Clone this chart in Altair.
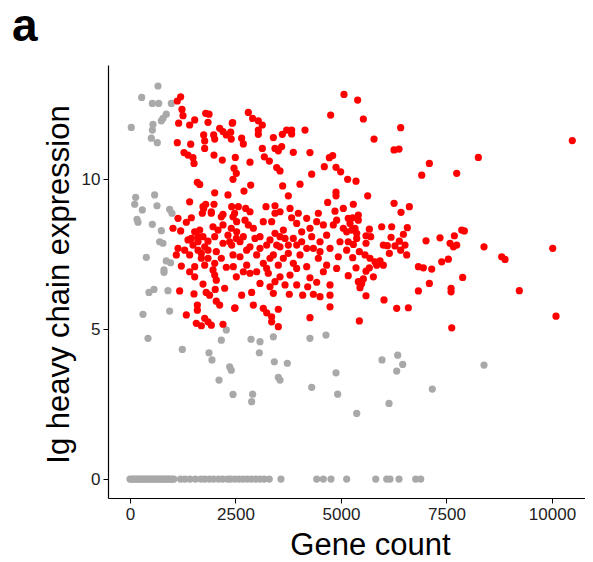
import altair as alt
import pandas as pd

red_gene_count = [
    1201,1121,1232,1256,1794,1872,1533,1153,1849,1414,2424,2125,2204,2283,2386,1746,1983,1770,2007,2400,
    1121,1438,1770,1280,1375,1493,1517,1991,2188,2496,2465,2520,2441,1596,1652,2007,2322,1414,1794,1991,
    1746,1927,2204,2480,
    5071,5395,2804,2907,3041,3136,4755,2433,3041,3041,3713,3831,3831,3610,4147,3397,2646,2686,3136,3436,
    3594,3515,3870,4265,3183,3302,2844,4724,4803,4605,4882,4992,3476,3555,4306,3618,4029,2860,2702,5157,
    5356,3752,4882,4882,4684,2567,2742,3223,3436,3792,5055,5292,3436,3989,4463,4858,
    5530,6414,5783,6257,6375,7094,6913,7742,8255,5633,6257,6620,6422,5411,
    10481,8389,8808,8887,10017,9226,10095,
    5277,5411,5214,5672,5964,6201,6572,6478,6186,6383,6280,6517,6003,6098,6414,6146,6557,7015,7346,7686,
    7860,7923,7584,7663,7742,7544,7387,6834,6952,7149,7883,7094,6834,7608,7608,6019,6320,6596,5435,7624,
    5593,5767,5490,5450,5530,5356,5277,5569,5688,5806,5925,6003,5846,5672,5593,5435,5293,5372,5593,5593,
    5704,5372,5254,
    2725,3159,3357,3831,3950,4187,4265,4069,3634,3436,2923,2528,2686,3081,3674,4306,4897,5172,5055,5332,
    5134,4660,4503,2410,2844,3239,3555,3950,4187,4740,5172,5134,4937,4463,4029,3752,3397,3002,2607,2448,
    2765,3159,3515,3870,4187,4660,2844,3278,3555,3792,4265,4740,4424,5172,5411,3081,3318,3674,4211,2646,
    2883,3397,3776,4092,4345,4503,4740,2488,2923,3159,3515,3239,3357,3357,3515,4265,4740,
    1138,1335,1454,1730,1927,1714,2164,2441,1019,1201,1533,1652,1967,2204,2400,1375,1612,1730,1849,2007,
    2204,2362,2520,1138,1296,1493,1612,1849,2045,1098,1414,1691,1849,2164,2441,1217,1533,1770,1967,2282,
    1414,1533,2007,2045,2520,1730,1177,1517,1806,1886,2020,2243,2045,2125,1596,1596,2480,1335,1770,1849,
    1572,1691,1927,2204,
    2528,2607,2804,2962,2765,3081,3318,3476,3555,3752,3870,4069,3318,3634,3950,3239,3002,2686,3436,3950,
    4582,4897,4345,4503,4976,4818,4582,4424,2844,3555,2410,
    1454,1770,1612,2086,2322,1691,2007,
]
red_ig = [
    12.74,12.6,12.32,12.11,12.19,12.16,11.97,11.86,11.89,11.8,11.86,11.69,11.58,11.47,11.56,11.47,11.47,11.27,11.33,11.33,
    11.21,11.16,11.02,10.88,10.8,10.71,10.52,10.8,10.63,10.72,10.36,10.19,9.99,9.89,9.82,9.54,9.47,9.24,9.16,9.16,
    9.02,8.91,8.82,8.86,
    12.82,12.63,12.22,12.02,11.94,11.8,12.13,11.88,11.63,11.49,11.63,11.63,11.5,11.49,11.63,11.38,11.36,11.17,11.02,11.02,
    11.08,10.94,10.89,10.88,10.74,10.6,10.56,10.71,10.78,10.41,10.39,10.24,10.38,10.27,10.16,9.77,9.83,9.8,9.6,9.99,
    9.93,9.44,9.56,9.44,9.22,9.08,9.02,9.08,9.11,9.02,9.02,9.16,8.86,8.86,8.86,8.93,
    12.0,11.71,11.33,10.97,11.0,10.52,10.13,10.19,10.72,9.44,9.19,9.08,8.89,8.8,
    11.28,7.74,7.41,7.32,7.69,6.28,5.43,
    8.71,8.63,8.52,8.33,8.41,8.41,8.38,8.16,8.06,7.93,7.77,7.8,7.8,7.78,7.63,7.52,7.47,7.94,8.04,8.11,
    8.3,8.27,7.86,7.74,7.8,7.33,7.24,7.08,7.04,7.0,6.72,6.52,6.27,6.36,6.24,5.97,5.69,5.71,5.27,5.04,
    6.11,6.74,6.52,6.38,6.67,7.04,7.38,7.47,7.36,7.24,7.27,7.13,7.13,7.04,6.93,7.58,7.82,8.02,7.86,8.11,
    8.08,8.19,8.3,
    8.63,8.58,8.58,8.71,8.52,8.69,8.36,8.24,8.3,8.19,8.36,8.24,8.08,8.08,8.02,8.08,8.63,8.69,8.36,8.36,
    8.24,8.13,7.91,7.8,7.74,7.8,7.74,7.8,7.69,7.69,7.91,7.63,7.41,7.36,7.47,7.52,7.47,7.47,7.41,7.08,
    7.13,7.19,7.13,7.19,7.08,7.13,6.86,6.86,6.74,6.8,6.71,6.47,6.56,6.78,6.58,6.52,6.41,6.47,6.41,6.13,
    6.22,6.19,6.16,6.13,6.16,6.08,6.13,5.71,5.8,5.69,5.66,5.54,5.41,5.24,5.08,5.38,5.74,
    8.69,8.56,8.71,9.08,8.86,8.86,8.74,8.74,8.36,8.27,8.24,8.3,8.41,8.47,8.36,7.97,8.08,8.08,7.93,8.08,
    7.86,7.91,8.02,7.69,7.63,7.8,7.63,7.63,7.58,7.47,7.47,7.36,7.36,7.36,7.47,7.1,7.08,7.13,6.97,7.06,
    6.91,6.74,6.8,6.63,6.74,6.5,6.27,6.17,6.22,6.13,6.32,6.36,5.93,5.8,5.8,5.63,5.69,5.47,5.36,5.24,
    5.19,5.11,5.13,5.16,
    8.58,7.91,8.47,8.02,7.63,7.69,7.97,7.8,8.08,7.8,8.02,7.91,7.36,7.36,7.02,7.02,6.91,6.91,6.58,6.47,
    6.91,7.02,7.69,7.58,7.91,8.47,8.47,8.58,8.91,8.91,9.08,
    8.02,7.74,7.91,8.3,8.13,7.52,7.19,
]

grey_gene_count = [
    664,277,530,680,980,860,782,742,31,545,530,505,647,134,584,111,640,292,940,995,
    166,190,530,743,703,782,387,860,963,806,806,569,450,900,308,940,427,2282,2164,1240,
    1872,1943,2362,2400,2110,2441,2868,3081,3397,4265,4645,3065,3420,3728,4882,3515,3555,4306,2907,4921,
    2883,5372,5972,6344,6462,6320,7164,6138,8389,
    0,40,80,120,160,200,240,280,320,360,400,440,480,520,560,600,640,680,720,760,800,840,880,920,960,1000,1040,
    1200,1300,1420,1550,1680,1770,1880,1980,2100,2200,2320,
    2380,2480,2580,2680,2780,2880,2980,3080,3180,3300,3578,4424,4581,4763,5134,5823,6083,6162,6375,6770,6889,
]
grey_ig = [
    13.1,12.72,12.52,12.52,12.52,12.16,12.02,11.94,11.72,11.82,11.63,11.36,11.21,9.39,9.47,9.16,9.11,8.97,8.99,8.86,
    8.66,8.56,8.49,8.28,7.91,7.86,7.39,7.27,7.21,6.97,6.89,6.32,6.22,6.28,5.49,5.6,4.69,4.97,4.63,4.32,
    4.21,3.97,3.74,3.63,3.3,2.82,4.66,4.58,4.74,4.69,4.8,4.21,3.91,3.86,3.54,3.39,3.3,3.06,2.83,2.83,
    2.58,2.19,3.97,4.13,3.82,3.6,3.0,2.52,3.8,
] + [0.0] * 27 + [0.0] * 11 + [0.0] * 21

x_ticks = [0, 2500, 5000, 7500, 10000]
y_ticks = [0, 5, 10]
panel_label = ["a"]

df = pd.concat([
    pd.DataFrame({"gene": grey_gene_count, "ig": grey_ig, "grp": "low"}),
    pd.DataFrame({"gene": red_gene_count, "ig": red_ig, "grp": "high"}),
], ignore_index=True)
df["ord"] = range(len(df))

font = "Liberation Sans"

points = alt.Chart(df).mark_circle(size=52, opacity=1).encode(
    x=alt.X("gene:Q", scale=alt.Scale(domain=[-521, 10782], nice=False, zero=False),
            axis=alt.Axis(values=x_ticks, format="d", title="Gene count", grid=False, domain=True,
                          domainColor="black", domainWidth=1.2, tickColor="black", tickSize=5,
                          labelFontSize=17, labelColor="#222", labelFont=font, labelPadding=3,
                          titleFontSize=31, titleFont=font, titleFontWeight="normal", titleColor="black",
                          titleX=262, titleY=56, titleBaseline="alphabetic", titleAlign="center")),
    y=alt.Y("ig:Q", scale=alt.Scale(domain=[-0.63, 13.8], nice=False, zero=False),
            axis=alt.Axis(values=y_ticks, format="d", title="Ig heavy chain expression", grid=False, domain=True,
                          domainColor="black", domainWidth=1.2, tickColor="black", tickSize=5,
                          labelFontSize=17, labelColor="#222", labelFont=font, labelPadding=3,
                          titleFontSize=31, titleFont=font, titleFontWeight="normal", titleColor="black",
                          titleAngle=270, titleX=-40, titleY=219, titleBaseline="alphabetic", titleAlign="center")),
    color=alt.Color("grp:N", scale=alt.Scale(domain=["low", "high"], range=["#A9A9A9", "#FF0000"]), legend=None),
    order=alt.Order("ord:Q"),
)

label = alt.Chart(pd.DataFrame({"t": panel_label})).mark_text(
    font=font, fontSize=46, fontWeight="bold", color="black", align="left", baseline="bottom"
).encode(text="t:N", x=alt.value(-96), y=alt.value(-14))

chart = alt.layer(points, label).properties(
    width=477, height=433,
    autosize=alt.AutoSizeParams(type="none"),
    padding={"left": 100, "top": 57, "right": 0, "bottom": 63},
).configure_view(stroke=None)

chart.save("out.html", embed_options={"renderer": "svg", "actions": False})
